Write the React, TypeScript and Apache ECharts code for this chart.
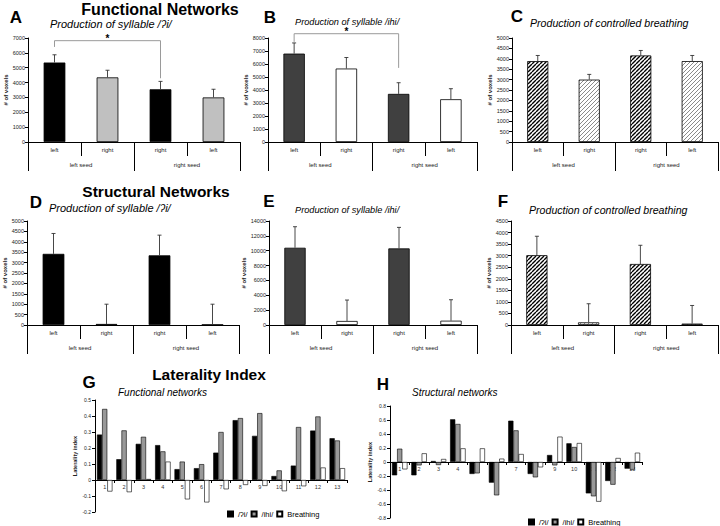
import React, { useEffect, useRef } from "react";
import * as echarts from "echarts";

// ---------- data ----------
const categories = ["left", "right", "right", "left"];
const seeds = ["left seed", "right seed"];

const aValues = [5350, 4350, 3550, 3000];
const aErrTop = [5870, 4830, 4080, 3550];
const bValues = [6800, 5650, 3700, 3290];
const bErrTop = [7620, 6500, 4560, 4100];
const cValues = [3890, 3000, 4160, 3890];
const cErrTop = [4160, 3250, 4400, 4160];
const dValues = [3420, 50, 3350, 20];
const dErrTop = [4400, 1000, 4320, 1000];
const eValues = [10400, 540, 10310, 580];
const eErrTop = [13230, 3360, 13140, 3400];
const fValues = [3020, 115, 2640, 60];
const fErrTop = [3840, 920, 3450, 845];

// significance brackets: [fromCat, toCat, topY, leftDropY, rightDropY]
const sigA = [0, 2, 6820, 6400, 4290];
const sigB = [0, 2, 8330, 7700, 5700];

const liCategories = ["1", "2", "3", "4", "5", "6", "7", "8", "9", "10", "11", "12", "13"];
const liNames = ["/ʔi/", "/ihi/", "Breathing"];
const gGlottal = [0.284, 0.13, 0.226, 0.218, 0.068, 0.074, 0.171, 0.374, 0.276, 0.025, 0.09, 0.309, 0.261];
const gIhi = [0.444, 0.31, 0.27, 0.179, 0.115, 0.099, 0.3, 0.387, 0.418, 0.06, 0.331, 0.397, 0.247];
const gBreathing = [-0.072, -0.076, 0.006, 0.115, -0.121, -0.14, -0.058, -0.031, -0.037, -0.07, -0.039, 0.078, 0.074];
const hGlottal = [-0.19, -0.19, 0.014, 0.61, -0.171, -0.295, 0.59, -0.171, 0.1, 0.267, -0.448, -0.271, -0.095];
const hIhi = [0.19, -0.048, -0.043, 0.543, -0.162, -0.476, 0.452, -0.219, -0.048, 0.214, -0.49, -0.324, -0.11];
const hBreathing = [-0.105, 0.124, 0.043, 0.195, 0.195, 0.048, 0.114, -0.076, 0.362, 0.271, -0.567, 0.057, 0.133];

const FONT = '"Liberation Sans", Arial, Helvetica, sans-serif';

function makeHatch(stroke: string, lw: number, size: number): any {
  const c = document.createElement("canvas");
  c.width = size;
  c.height = size;
  const g = c.getContext("2d")!;
  g.fillStyle = "#fff";
  g.fillRect(0, 0, size, size);
  g.strokeStyle = stroke;
  g.lineWidth = lw;
  g.beginPath();
  for (let k = -1; k <= 1; k++) {
    g.moveTo(k * size, size);
    g.lineTo(k * size + size, 0);
  }
  g.stroke();
  return { image: c, repeat: "repeat", imageWidth: size, imageHeight: size };
}

function errorRender(params: any, api: any) {
  const x = api.value(0);
  const v = api.value(1);
  const e = api.value(2);
  const base = api.coord([x, v]);
  const top = api.coord([x, e]);
  const st = { stroke: "#333", lineWidth: 0.9 };
  return {
    type: "group",
    children: [
      { type: "line", shape: { x1: base[0], y1: base[1], x2: top[0], y2: top[1] }, style: st },
      { type: "line", shape: { x1: top[0] - 2, y1: top[1], x2: top[0] + 2, y2: top[1] }, style: st },
    ],
  };
}

function bracketRender(params: any, api: any) {
  const x1 = api.value(0);
  const x2 = api.value(1);
  const yTop = api.value(2);
  const tL = api.coord([x1, yTop]);
  const tR = api.coord([x2, yTop]);
  const pL = api.coord([x1, api.value(3)]);
  const pR = api.coord([x2, api.value(4)]);
  return {
    type: "group",
    children: [
      {
        type: "polyline",
        shape: { points: [pL, tL, tR, pR] },
        style: { stroke: "#9a9a9a", fill: "none", lineWidth: 1 },
      },
      {
        type: "text",
        x: (tL[0] + tR[0]) / 2,
        y: tL[1] - 2,
        style: {
          text: "*",
          fill: "#000",
          font: `bold 10px ${FONT}`,
          align: "center",
          verticalAlign: "middle",
          textAlign: "center",
          textVerticalAlign: "middle",
        },
      },
    ],
  };
}

function buildOption() {
  const hatchDark = makeHatch("#000", 1.4, 4);
  const hatchLight = makeHatch("#8a8a8a", 1.0, 4);

  const barPanels: any[] = [
    { grid: { left: 28, top: 38, width: 212, height: 104 }, max: 7000, interval: 1000, values: aValues, err: aErrTop, colors: ["#000", "#c0c0c0", "#000", "#c0c0c0"], sig: sigA },
    { grid: { left: 268, top: 38, width: 209, height: 104 }, max: 8000, interval: 1000, values: bValues, err: bErrTop, colors: ["#404040", "#fff", "#404040", "#fff"], sig: sigB },
    { grid: { left: 512, top: 38, width: 206, height: 104 }, max: 5000, interval: 500, values: cValues, err: cErrTop, colors: [hatchDark, hatchLight, hatchDark, hatchLight] },
    { grid: { left: 27, top: 221, width: 212, height: 104 }, max: 5000, interval: 500, values: dValues, err: dErrTop, colors: ["#000", "#c0c0c0", "#000", "#c0c0c0"] },
    { grid: { left: 269, top: 221, width: 208, height: 104 }, max: 14000, interval: 2000, values: eValues, err: eErrTop, colors: ["#404040", "#fff", "#404040", "#fff"] },
    { grid: { left: 511, top: 221, width: 207, height: 104 }, max: 4500, interval: 500, values: fValues, err: fErrTop, colors: [hatchDark, hatchLight, hatchDark, hatchLight] },
  ];

  const grids: any[] = [];
  const xAxes: any[] = [];
  const yAxes: any[] = [];
  const series: any[] = [];

  const axisLabelBase = { fontSize: 5.5, color: "#222", fontFamily: FONT };
  const nameStyle = { fontSize: 6, fontWeight: "bold", color: "#222", fontFamily: FONT };
  const plain = (v: number) => String(Math.round(v * 1000) / 1000);

  barPanels.forEach((p, i) => {
    grids.push({ ...p.grid, containLabel: false });
    xAxes.push({
      type: "category",
      gridIndex: i,
      data: categories,
      position: "bottom",
      axisLine: { show: true, onZero: false, lineStyle: { color: "#000", width: 1 } },
      axisTick: { show: true, length: 14, interval: 0, lineStyle: { color: "#000", width: 1 } },
      axisLabel: { ...axisLabelBase, fontSize: 6, margin: 5, interval: 0 },
    });
    xAxes.push({
      type: "category",
      gridIndex: i,
      data: seeds,
      position: "bottom",
      axisLine: { show: false, onZero: false },
      axisTick: { show: true, length: 29, interval: 0, lineStyle: { color: "#000", width: 1 } },
      axisLabel: { ...axisLabelBase, fontSize: 6, margin: 20, interval: 0 },
    });
    yAxes.push({
      type: "value",
      gridIndex: i,
      min: 0,
      max: p.max,
      interval: p.interval,
      axisLine: { show: true, lineStyle: { color: "#000", width: 1 } },
      axisTick: { show: true, length: 3, lineStyle: { color: "#000" } },
      splitLine: { show: false },
      axisLabel: { ...axisLabelBase, margin: 3, formatter: plain },
      name: "# of voxels",
      nameLocation: "middle",
      nameGap: p.max >= 10000 ? 21 : 19,
      nameTextStyle: nameStyle,
    });
    series.push({
      type: "bar",
      name: "panel" + i,
      xAxisIndex: 2 * i,
      yAxisIndex: i,
      barWidth: "41%",
      data: p.values.map((v: number, j: number) => ({ value: v, itemStyle: { color: p.colors[j] } })),
      itemStyle: { borderColor: "#000", borderWidth: 0.8 },
      z: 2,
    });
    series.push({
      type: "custom",
      name: "err" + i,
      xAxisIndex: 2 * i,
      yAxisIndex: i,
      renderItem: errorRender,
      encode: { x: 0, y: [1, 2] },
      data: p.values.map((v: number, j: number) => [j, v, p.err[j]]),
      z: 3,
    });
    if (p.sig) {
      series.push({
        type: "custom",
        name: "sig" + i,
        xAxisIndex: 2 * i,
        yAxisIndex: i,
        renderItem: bracketRender,
        clip: false,
        encode: { x: [0, 1], y: [2, 3, 4] },
        data: [p.sig],
        z: 4,
      });
    }
  });

  const liPanels = [
    { grid: { left: 95, top: 400, width: 252, height: 112 }, min: -0.2, max: 0.5, interval: 0.1, data: [gGlottal, gIhi, gBreathing] },
    { grid: { left: 390, top: 406, width: 252, height: 112 }, min: -0.8, max: 0.8, interval: 0.2, data: [hGlottal, hIhi, hBreathing] },
  ];
  const liColors = ["#000", "#999", "#fff"];

  liPanels.forEach((p) => {
    const gi = grids.length;
    grids.push({ ...p.grid });
    const xi = xAxes.length;
    // put the category axis on the zero line of the value axis
    const zeroOffset = -p.grid.height * ((0 - p.min) / (p.max - p.min));
    xAxes.push({
      type: "category",
      gridIndex: gi,
      data: liCategories,
      position: "bottom",
      offset: zeroOffset,
      axisLine: { show: true, onZero: false, lineStyle: { color: "#000", width: 1 } },
      axisTick: { show: true, length: 3, interval: 0, lineStyle: { color: "#000" } },
      axisLabel: { ...axisLabelBase, color: "#333", margin: 4, interval: 0 },
    });
    yAxes.push({
      type: "value",
      gridIndex: gi,
      min: p.min,
      max: p.max,
      interval: p.interval,
      axisLine: { show: true, lineStyle: { color: "#000", width: 1 } },
      axisTick: { show: true, length: 3, lineStyle: { color: "#000" } },
      splitLine: { show: false },
      axisLabel: { ...axisLabelBase, fontSize: 5, margin: 4, formatter: plain },
      name: "Laterality index",
      nameLocation: "middle",
      nameGap: 16,
      nameTextStyle: { ...nameStyle, fontSize: 5.5 },
    });
    p.data.forEach((arr, s) => {
      series.push({
        type: "bar",
        name: liNames[s],
        xAxisIndex: xi,
        yAxisIndex: gi,
        data: arr,
        barGap: "0%",
        barCategoryGap: "20%",
        itemStyle: { color: liColors[s], borderColor: "#000", borderWidth: 0.6 },
      });
    });
  });

  const legendBase = {
    data: liNames,
    orient: "horizontal",
    icon: "rect",
    itemWidth: 5,
    itemHeight: 5,
    itemGap: 3,
    padding: 0,
    selectedMode: false,
    textStyle: { fontSize: 7.5, color: "#000", fontFamily: FONT },
  };

  const txt = (text: string, x: number, y: number, font: string, align = "center") => ({
    type: "text",
    x,
    y,
    style: {
      text,
      font,
      fill: "#000",
      align,
      textAlign: align,
      verticalAlign: "middle",
      textVerticalAlign: "middle",
    },
  });
  const bigBold = `bold 16px ${FONT}`;
  const letter = `bold 17px ${FONT}`;

  const graphics = [
    txt("Functional Networks", 160, 9, bigBold),
    txt("A", 16, 17, letter),
    txt("B", 270, 17, letter),
    txt("C", 517, 16, letter),
    txt("Production of syllable /ʔi/", 50, 24, `italic 11px ${FONT}`, "left"),
    txt("Production of syllable /ihi/", 295, 22, `italic 9.2px ${FONT}`, "left"),
    txt("Production of controlled breathing", 530, 23, `italic 10.6px ${FONT}`, "left"),
    txt("Structural Networks", 156, 191, `bold 15.5px ${FONT}`),
    txt("D", 36, 202, letter),
    txt("E", 269, 201, letter),
    txt("F", 503, 201, letter),
    txt("Production of syllable /ʔi/", 49, 208, `italic 11px ${FONT}`, "left"),
    txt("Production of syllable /ihi/", 295, 210, `italic 9.2px ${FONT}`, "left"),
    txt("Production of controlled breathing", 529, 210, `italic 10.6px ${FONT}`, "left"),
    txt("Laterality Index", 209, 374, `bold 15.5px ${FONT}`),
    txt("G", 89, 382, letter),
    txt("H", 383, 384, letter),
    txt("Functional networks", 118, 392, `italic 10px ${FONT}`, "left"),
    txt("Structural networks", 412, 392, `italic 10px ${FONT}`, "left"),
  ];

  return {
    animation: false,
    backgroundColor: "#fff",
    textStyle: { fontFamily: FONT },
    grid: grids,
    xAxis: xAxes,
    yAxis: yAxes,
    legend: [
      { ...legendBase, left: 227, top: 510 },
      { ...legendBase, left: 528, top: 518 },
    ],
    graphic: graphics,
    series,
  };
}

export default function App() {
  const ref = useRef<HTMLDivElement>(null);
  useEffect(() => {
    if (!ref.current) return;
    const chart = echarts.init(ref.current, null, { renderer: "svg" });
    chart.setOption(buildOption() as any);
    return () => chart.dispose();
  }, []);
  return (
    <div
      ref={ref}
      style={{ position: "fixed", left: 0, top: 0, width: 720, height: 526, background: "#fff" }}
    />
  );
}
